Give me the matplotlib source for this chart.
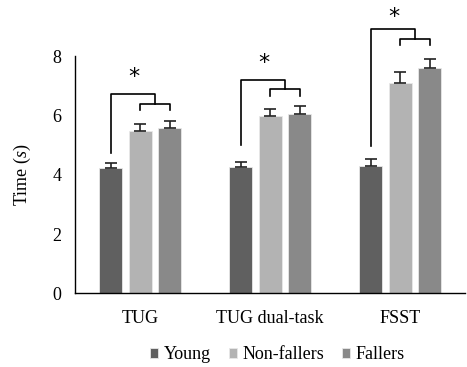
import numpy as np
import matplotlib.pyplot as plt

plt.rcParams['font.family'] = ['Liberation Serif', 'DejaVu Serif']
plt.rcParams['mathtext.fontset'] = 'custom'
plt.rcParams['mathtext.it'] = 'Liberation Serif:italic'
plt.rcParams['mathtext.rm'] = 'Liberation Serif'

tests = ["TUG", "TUG dual-task", "FSST"]
groups = ["Young", "Non-fallers", "Fallers"]
colors = ["#606060", "#b3b3b3", "#898989"]

young = [4.22, 4.26, 4.31]
non_fallers = [5.48, 5.98, 7.10]
fallers = [5.58, 6.05, 7.60]
young_err = [0.17, 0.16, 0.23]
non_fallers_err = [0.24, 0.25, 0.36]
fallers_err = [0.24, 0.28, 0.32]

# significance brackets (data units)
young_line_bottom = [4.74, 4.99, 4.98]
big_bracket_y = [6.73, 7.20, 8.92]
small_bracket_y = [6.39, 6.89, 8.59]
small_bracket_bottom = [6.19, 6.64, 8.36]
star_y = [7.28, 7.76, 9.33]

values = [young, non_fallers, fallers]
errors = [young_err, non_fallers_err, fallers_err]

fig = plt.figure(figsize=(4.67, 3.67), dpi=100)
ax = fig.add_axes([0.161, 0.2008, 0.835, 0.6462])

x = np.arange(len(tests))
width = 0.177
offsets = [-0.227, 0, 0.227]

for vals, errs, off, col, name in zip(values, errors, offsets, colors, groups):
    ax.bar(x + off, vals, width, color=col, edgecolor="#e8e8e8", linewidth=0.6,
           label=name, zorder=2)
    ax.errorbar(x + off, vals, yerr=[np.zeros(len(errs)), errs], fmt="none",
                ecolor="#222222", elinewidth=1.2, capsize=4, capthick=1.2, zorder=3)

for i in range(len(tests)):
    xy = x[i] + offsets[0]
    xn = x[i] + offsets[1]
    xf = x[i] + offsets[2]
    xm = (xn + xf) / 2
    kw = dict(color="black", lw=1.2, clip_on=False, zorder=4)
    ax.plot([xn, xn, xf, xf], [small_bracket_bottom[i], small_bracket_y[i],
                               small_bracket_y[i], small_bracket_bottom[i]], **kw)
    ax.plot([xy, xy, xm, xm], [young_line_bottom[i], big_bracket_y[i],
                               big_bracket_y[i], small_bracket_y[i]], **kw)
    ax.text((xy + xm) / 2 + 0.005, star_y[i], "*", ha="center", va="center",
            fontsize=16, family="DejaVu Sans", clip_on=False)

ax.set_xlim(-0.5, 2.5)
ax.set_ylim(0, 8)
ax.set_yticks([0, 2, 4, 6, 8])
ax.set_xticks(x)
ax.set_xticklabels(tests)
ax.tick_params(axis="both", length=0, labelsize=13)
ax.tick_params(axis="x", pad=12)
ax.tick_params(axis="y", pad=10)
for s in ["top", "right"]:
    ax.spines[s].set_visible(False)
ax.spines["left"].set_linewidth(1.0)
ax.spines["bottom"].set_linewidth(1.0)

ax.set_ylabel("Time ($\\mathit{s}$)", fontsize=13, labelpad=14)

fig.legend(*ax.get_legend_handles_labels(), loc="center",
           bbox_to_anchor=(0.594, 0.033), ncol=3, frameon=False,
           fontsize=13, handlelength=0.45, handleheight=0.45, handletextpad=0.3,
           columnspacing=1.0, borderpad=0)

fig.savefig("out.png", dpi=100)
